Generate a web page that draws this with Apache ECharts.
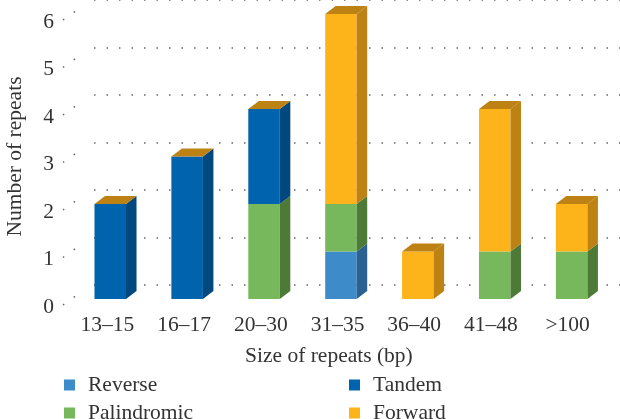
<!DOCTYPE html>
<html><head><meta charset="utf-8">
<style>html,body{margin:0;padding:0;background:#fff}#c{width:620px;height:419px}</style>
<script src="https://cdn.jsdelivr.net/npm/echarts@6/dist/echarts.min.js"></script>
</head><body><div id="c"></div>
<script>
const categories = ['13–15','16–17','20–30','31–35','36–40','41–48','>100'];
const reverse     = [0,0,0,1,0,0,0];
const palindromic = [0,0,2,1,0,1,1];
const tandem      = [2,3,2,0,0,0,0];
const forward     = [0,0,0,4,1,3,1];
const yTicks = [0,1,2,3,4,5,6];

const FONT = '"Liberation Serif", serif';
const TEXT = '#333';
const FS = 21.5;
const DX = 10.5, DY = 8;

const layers = [
  {name:'Reverse',     values:reverse,     front:'#3d8bc9', side:'#2a6190'},
  {name:'Palindromic', values:palindromic, front:'#77b85d', side:'#4d7a37'},
  {name:'Tandem',      values:tandem,      front:'#0063ae', side:'#00487e'},
  {name:'Forward',     values:forward,     front:'#fdb31a', side:'#bd8213', top:'#bd8213'}
];

const base = categories.map(() => 0);
const barSeries = layers.map(l => {
  const data = l.values.map((v,i) => { const s = base[i]; base[i] += v; return [i, s, s + v]; });
  return {
    type:'custom', name:l.name, xAxisIndex:0, yAxisIndex:0, clip:false, z:5,
    itemStyle:{color:l.front},
    encode:{x:0, y:[1,2]},
    data,
    renderItem(params, api){
      const i = api.value(0);
      const a = api.coord([i, api.value(1)]);
      const b = api.coord([i, api.value(2)]);
      const w = api.size([1,0])[0] * 0.41;
      const x0 = a[0] - w/2, x1 = a[0] + w/2, y0 = a[1], y1 = b[1];
      const kids = [];
      if (y0 - y1 > 0) {
        kids.push({type:'rect', shape:{x:x0,y:y1,width:w,height:y0-y1}, style:{fill:l.front}});
        kids.push({type:'polygon', shape:{points:[[x1,y0],[x1+DX,y0-DY],[x1+DX,y1-DY],[x1,y1]]}, style:{fill:l.side}});
      }
      if (l.top) {
        kids.push({type:'polygon', shape:{points:[[x0,y1],[x1,y1],[x1+DX,y1-DY],[x0+DX,y1-DY]]}, style:{fill:l.top}});
      }
      return {type:'group', children:kids};
    }
  };
});

const wallSeries = {
  type:'custom', name:'wall', xAxisIndex:1, yAxisIndex:1, clip:false, z:1, silent:true,
  data: yTicks.map(t => [0, t]),
  encode:{x:0, y:1},
  renderItem(params, api){
    const p = api.coord([0, api.value(1)]);
    return {type:'polyline',
      shape:{points:[[p[0]-31,p[1]+20],[p[0]-10,p[1]+5]]},
      style:{stroke:'#666', lineWidth:1.5, lineDash:[1.5,11.7], fill:null}};
  }
};

const chart = echarts.init(document.getElementById('c'), null, {renderer:'canvas'});
chart.setOption({
  animation:false,
  backgroundColor:'#fff',
  textStyle:{fontFamily:FONT, color:TEXT},
  title:{text:'Size of repeats (bp)', left:240, top:340,
    textStyle:{fontFamily:FONT, fontSize:FS, fontWeight:'normal', color:TEXT}},
  grid:[
    {left:71.8, width:538.3, top:14, height:285, outerBoundsMode:'none'},
    {left:94, right:0, top:0, height:285, outerBoundsMode:'none'},
    {left:69, width:537, top:22, height:285, outerBoundsMode:'none'}
  ],
  xAxis:[
    {type:'category', gridIndex:0, data:categories, show:false},
    {type:'value', gridIndex:1, min:0, max:1, show:false},
    {type:'category', gridIndex:2, data:categories,
     axisLine:{show:false}, axisTick:{show:false}, splitLine:{show:false},
     axisLabel:{fontFamily:FONT, fontSize:FS, color:TEXT, margin:7, interval:0}}
  ],
  yAxis:[
    {type:'value', gridIndex:0, min:0, max:6, interval:1,
     axisLine:{show:false}, axisTick:{show:false}, splitLine:{show:false},
     axisLabel:{show:false},
     name:'Number of repeats', nameLocation:'middle', nameGap:45,
     nameTextStyle:{fontFamily:FONT, fontSize:FS, color:TEXT}},
    {type:'value', gridIndex:1, min:0, max:6, interval:1,
     axisLine:{show:false}, axisTick:{show:false}, axisLabel:{show:false},
     splitLine:{show:true, lineStyle:{color:'#666', width:1.5, type:[1.5,11]}}},
    {type:'value', gridIndex:2, min:0, max:6, interval:1,
     axisLine:{show:false}, axisTick:{show:false}, splitLine:{show:false},
     axisLabel:{fontFamily:FONT, fontSize:FS, color:TEXT, margin:15}}
  ],
  legend:[
    {left:59, top:369, height:60, orient:'vertical', itemGap:6, itemWidth:11, itemHeight:11, icon:'rect',
     data:['Reverse','Palindromic'],
     textStyle:{fontFamily:FONT, fontSize:FS, color:TEXT, lineHeight:22, padding:[0,0,0,8]}},
    {left:344, top:369, height:60, orient:'vertical', itemGap:6, itemWidth:11, itemHeight:11, icon:'rect',
     data:['Tandem','Forward'],
     textStyle:{fontFamily:FONT, fontSize:FS, color:TEXT, lineHeight:22, padding:[0,0,0,8]}}
  ],
  series:[wallSeries].concat(barSeries)
});
</script></body></html>
